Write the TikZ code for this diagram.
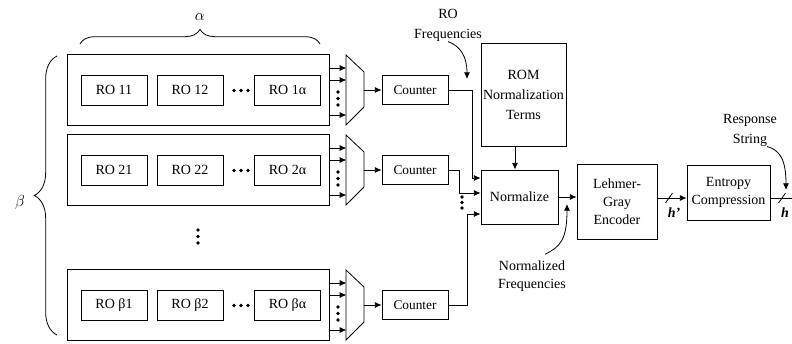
\documentclass[tikz,border=0pt]{standalone}
\usepackage{fontspec}
\setmainfont{Liberation Serif}
\usetikzlibrary{arrows.meta,decorations.pathreplacing}
\begin{document}
\begin{tikzpicture}[x=0.75pt, y=-0.75pt, line width=0.6pt, >={Latex[length=5pt,width=4.5pt]},
  every node/.style={font=\fontsize{10.5}{13.5}\selectfont},
  rowbox/.style={draw, minimum width=196.5pt, minimum height=53pt, inner sep=0pt},
  robox/.style={draw, minimum width=49.5pt, minimum height=22.5pt, inner sep=0pt},
  cntbox/.style={draw, minimum width=49.5pt, minimum height=21.75pt, inner sep=0pt, font=\fontsize{10}{12}\selectfont},
  blk/.style={draw, align=center, inner sep=0pt},
  lbl/.style={align=center, inner sep=0pt}]
  \useasboundingbox (0,0) rectangle (792,343);
  % alpha / beta braces
  \draw[decorate, decoration={brace, amplitude=11pt}] (80,44) -- (320,44);
  \node[font=\fontsize{12}{14}\selectfont] (alab) at (200,17) {$\alpha$};
  \draw[decorate, decoration={brace, amplitude=17pt}] (57,335) -- (57,56);
  \node[font=\fontsize{12}{14}\selectfont] (blab) at (20,202) {$\beta$};
  % RO rows, muxes and counters
  \foreach \r/\y/\ta/\tb/\tc in {1/90/RO 11/RO 12/RO 1α, 2/170/RO 21/RO 22/RO 2α, 3/305/RO β1/RO β2/RO βα}{
    \node[rowbox] (row\r) at (198,\y) {};
    \node[robox] (ro\r1) at (114,\y) {\ta};
    \node[robox] (ro\r2) at (190,\y) {\tb};
    \node[robox] (ro\r3) at (287.5,\y) {\tc};
    \foreach \k in {234,241,248} \fill (\k,\y+0.5) circle (1.4pt);
    \draw (346,\y-35) -- (364,\y-18) -- (364,\y+17) -- (346,\y+35) -- cycle;
    \foreach \s in {16.5,7.5,-18.75} \draw[->] ([yshift=\s pt]row\r.east) -- ++(17,0);
    \foreach \k in {2,8.5,15} \fill (338,\y+\k) circle (1.4pt);
    \coordinate (mux\r) at (364,\y);
    \node[cntbox] (cnt\r) at (415,\y) {Counter};
    \draw[->] (mux\r) -- (cnt\r);
  }
  \foreach \k in {230,236.5,243} \fill (198,\k) circle (1.4pt);
  % normalization
  \node[blk, minimum width=63.75pt, minimum height=77.25pt, font=\fontsize{10.5}{15}\selectfont] (rom) at (523.5,94.5) {ROM\\Normalization\\Terms};
  \node[blk, minimum width=57.75pt, minimum height=40.5pt] (norm) at (519.5,197) {Normalize};
  \draw[->] ([xshift=-6.4pt]rom.south) -- ([xshift=-6.4pt]rom.south |- norm.north);
  \draw[->] (cnt1.east) -- ++(24,0) |- ([yshift=14.25pt]norm.west);
  \draw[->] (cnt2.east) -- ++(11,0) |- ([yshift=3pt]norm.west);
  \draw[->] (cnt3.east) -- ++(19,0) |- ([yshift=-12.75pt]norm.west);
  \foreach \k in {197,202.5,208} \fill (462,\k) circle (1.4pt);
  % encoder and compression
  \node[blk, minimum width=60pt, minimum height=56.25pt] (enc) at (617,201.5) {Lehmer-\\Gray\\Encoder};
  \node[blk, minimum width=62.25pt, minimum height=41.25pt] (ent) at (728.5,192.5) {Entropy\\Compression};
  \draw[->] (norm.east) -- (norm.east -| enc.west);
  \coordinate (hp) at (669,198);
  \draw[->] (enc.east |- hp) -- (ent.west |- hp);
  \draw ([shift={(-3.5,5)}]hp) -- ([shift={(3.5,-5)}]hp);
  \node (hplab) at (674,213) {\textbf{\textit{h’}}};
  \coordinate (hout) at (792,198);
  \draw (ent.east |- hout) -- (hout);
  \draw (778.5,203) -- (785.5,193);
  \node (hlab) at (785,213) {\textbf{\textit{h}}};
  % labels with curved pointers
  \node[lbl, font=\fontsize{10.5}{15}\selectfont] (rofreq) at (448,25) {RO\\Frequencies};
  \coordinate (rofin) at (467,79);
  \draw[->] (rofreq.south) .. controls (460,46) and (467,56) .. (rofin);
  \node[lbl] (nfreq) at (532,276) {Normalized\\Frequencies};
  \coordinate (nfin) at (567,204);
  \draw[->] ([shift={(13,-6)}]nfreq.north) .. controls (560,247) and (567,240) .. (nfin);
  \node[lbl, font=\fontsize{10.5}{15}\selectfont] (resp) at (750,130) {Response\\String};
  \coordinate (rin) at (786,190);
  \draw[->] ([shift={(17,0)}]resp.south) .. controls (780,150) and (786,160) .. (rin);
\end{tikzpicture}
\end{document}
